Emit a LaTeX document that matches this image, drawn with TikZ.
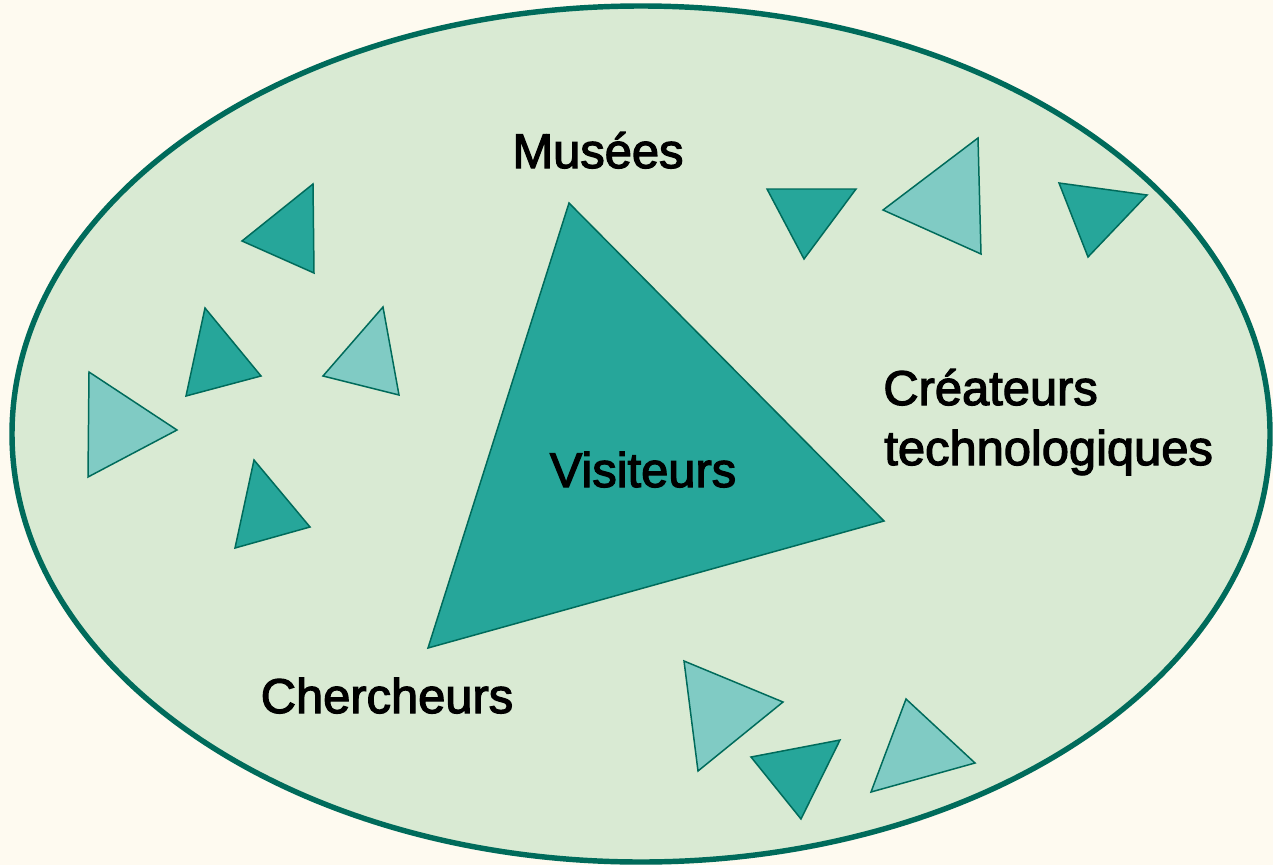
\documentclass[tikz,border=0pt]{standalone}
\usepackage{fontspec}
\setmainfont{Liberation Sans}
\newfontfamily\lblfont{Liberation Sans}[FakeBold=2.5]
\definecolor{bgcol}{HTML}{FEFAF0}
\definecolor{ellfill}{HTML}{D9EAD3}
\definecolor{edgecol}{HTML}{006B5B}
\definecolor{darktri}{HTML}{26A69A}
\definecolor{lighttri}{HTML}{80CBC4}
\tikzset{
  darkT/.style={fill=darktri,draw=edgecol,line width=0.85pt,line join=miter},
  lightT/.style={fill=lighttri,draw=edgecol,line width=0.85pt,line join=miter},
  lbl/.style={font=\lblfont\fontsize{27.8pt}{34pt}\selectfont,text=black,inner sep=0pt}
}
\begin{document}
\begin{tikzpicture}[x=0.02cm,y=-0.02cm]
\fill[bgcol] (0,0) rectangle (1273,865);
\useasboundingbox (0,0) rectangle (1273,865);
\draw[fill=ellfill,draw=edgecol,line width=3.1pt] (641,434) ellipse [x radius=629, y radius=428];
% big triangle
\draw[darkT] (569,203) -- (884,521) -- (428,648) -- cycle;
% small triangles left
\draw[darkT] (313,184) -- (314,273) -- (242,241) -- cycle;
\draw[darkT] (205,308) -- (261,376) -- (186,396) -- cycle;
\draw[lightT] (383,307) -- (399,395) -- (323,376) -- cycle;
\draw[lightT] (89,372) -- (177,430) -- (88,477) -- cycle;
\draw[darkT] (254,460) -- (310,527) -- (235,548) -- cycle;
% top right
\draw[darkT] (767,189) -- (856,189) -- (804,259) -- cycle;
\draw[lightT] (978,138) -- (981,254) -- (883,210) -- cycle;
\draw[darkT] (1059,183) -- (1147,195) -- (1088,257) -- cycle;
% bottom
\draw[lightT] (684,661) -- (783,702) -- (698,771) -- cycle;
\draw[darkT] (751,757) -- (840,740) -- (801,819) -- cycle;
\draw[lightT] (906,699) -- (975,763) -- (871,792) -- cycle;
% labels
\node[lbl,anchor=base] (musees) at (598,168) {Musées};
\node[lbl,anchor=base] (visiteurs) at (643,487) {Visiteurs};
\node[lbl,anchor=base] (chercheurs) at (387,713) {Chercheurs};
\node[lbl,anchor=base west] (createurs) at (883,405) {Créateurs};
\node[lbl,anchor=base west] (techno) at (884,465) {technologiques};
\end{tikzpicture}
\end{document}
